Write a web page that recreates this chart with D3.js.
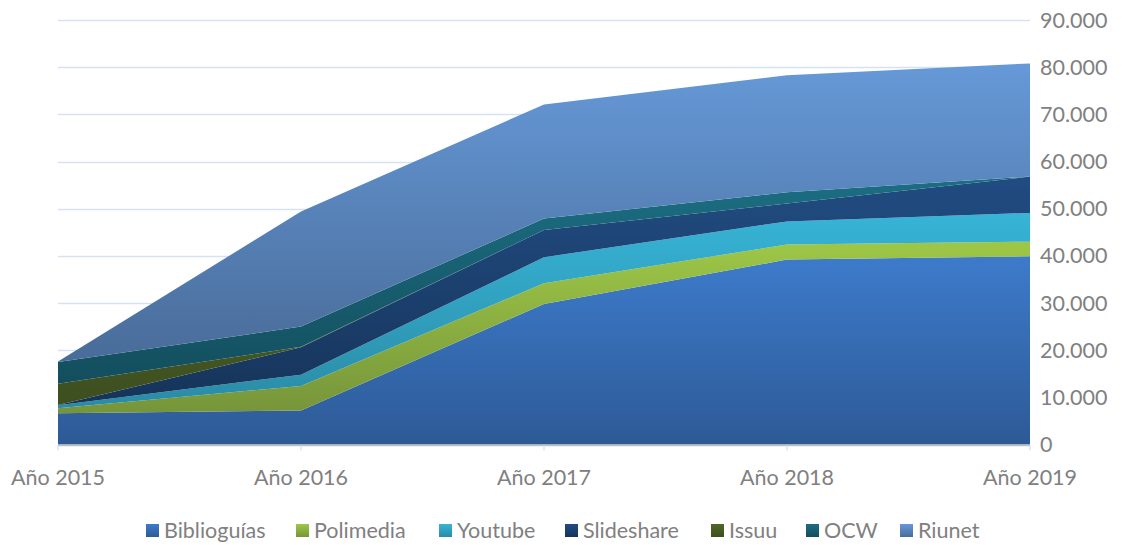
<!DOCTYPE html>
<html>
<head>
<meta charset="utf-8">
<script src="https://cdn.jsdelivr.net/npm/d3@7"></script>
<style>
  body { margin: 0; background: #fff; }
  text { font-family: Lato, "Open Sans", sans-serif; fill: #808080; }
</style>
</head>
<body>
<div class="chart"></div>
<script>
var svgWidth = 1127;
var svgHeight = 545;

var margin = { top: 20, right: 97, bottom: 100, left: 58 };

var width = 1030 - margin.left;
var height = 444.5 - margin.top;

// chart data
var years = ["Año 2015", "Año 2016", "Año 2017", "Año 2018", "Año 2019"];
var seriesNames = ["Bibliogu\u00edas", "Polimedia", "Youtube", "Slideshare", "Issuu", "OCW", "Riunet"];
var biblioguias = [6600, 7200, 29800, 39200, 39900];
var polimedia = [1100, 5200, 4400, 3200, 3100];
var youtube = [600, 2400, 5500, 4900, 6100];
var slideshare = [100, 5800, 5800, 3800, 7700];
var issuu = [4500, 100, 0, 0, 0];
var ocw = [4600, 4300, 2400, 2400, 0];
var riunet = [100, 24400, 24200, 24800, 24000];
var yTicks = [0, 10000, 20000, 30000, 40000, 50000, 60000, 70000, 80000, 90000];

// gradient colours: top, bottom
var colors = [
  ["#3d7bcb", "#2d5a96"],
  ["#9ec747", "#76953a"],
  ["#37b4d6", "#2a8ba6"],
  ["#214c82", "#16345a"],
  ["#51672a", "#3d4f1f"],
  ["#1c6e83", "#134e5d"],
  ["#6699d8", "#496c99"]
];

var allSeries = [biblioguias, polimedia, youtube, slideshare, issuu, ocw, riunet];

var table = years.map(function(y, i) {
  var row = { year: y };
  seriesNames.forEach(function(name, j) { row[name] = allSeries[j][i]; });
  return row;
});

var svg = d3.select(".chart")
  .append("svg")
  .attr("width", svgWidth)
  .attr("height", svgHeight);

var defs = svg.append("defs");
colors.forEach(function(c, i) {
  var g = defs.append("linearGradient")
    .attr("id", "grad" + i)
    .attr("x1", 0).attr("y1", 0).attr("x2", 0).attr("y2", 1);
  g.append("stop").attr("offset", "0%").attr("stop-color", c[0]);
  g.append("stop").attr("offset", "100%").attr("stop-color", c[1]);
});

var chartGroup = svg.append("g")
  .attr("transform", `translate(${margin.left}, ${margin.top})`);

var xScale = d3.scalePoint()
  .domain(years)
  .range([0, width]);

var yScale = d3.scaleLinear()
  .domain([0, 90000])
  .range([height, 0]);

var fmt = function(d) {
  return d === 0 ? "0" : d3.format(",")(d).replace(/,/g, ".");
};

// gridlines
chartGroup.append("g")
  .selectAll("line")
  .data(yTicks.filter(d => d > 0))
  .enter()
  .append("line")
  .attr("x1", 0)
  .attr("x2", width)
  .attr("y1", d => Math.round(yScale(d)) + 0.5)
  .attr("y2", d => Math.round(yScale(d)) + 0.5)
  .attr("stroke", "#d6e1f2")
  .attr("stroke-width", 1.3);

// stacked areas
var stack = d3.stack().keys(seriesNames);
var layers = stack(table);

var area = d3.area()
  .x(d => xScale(d.data.year))
  .y0(d => yScale(d[0]))
  .y1(d => yScale(d[1]));

chartGroup.selectAll(".layer")
  .data(layers)
  .enter()
  .append("path")
  .attr("class", "layer")
  .attr("d", area)
  .attr("fill", (d, i) => `url(#grad${i})`);

// bottom axis line and ticks
chartGroup.append("line")
  .attr("x1", 0).attr("x2", width)
  .attr("y1", height + 1).attr("y2", height + 1)
  .attr("stroke", "#bfbfbf")
  .attr("stroke-width", 1.3);

chartGroup.selectAll(".xtick")
  .data(years)
  .enter()
  .append("line")
  .attr("x1", d => xScale(d)).attr("x2", d => xScale(d))
  .attr("y1", height + 1).attr("y2", height + 6)
  .attr("stroke", "#d6e1f2")
  .attr("stroke-width", 1.3);

// x labels
chartGroup.selectAll(".xlabel")
  .data(years)
  .enter()
  .append("text")
  .attr("x", d => xScale(d))
  .attr("y", height + 40)
  .attr("text-anchor", "middle")
  .style("font-size", "21.5px")
  .text(d => d);

// y labels on the right
chartGroup.selectAll(".ylabel")
  .data(yTicks)
  .enter()
  .append("text")
  .attr("x", width + 10)
  .attr("y", d => yScale(d) + 7.5)
  .style("font-size", "21.5px")
  .text(d => fmt(d));

// legend (text start positions)
var legendX = [164, 314, 457, 583, 729, 824, 918];
var legend = svg.append("g");
seriesNames.forEach(function(name, i) {
  legend.append("rect")
    .attr("x", legendX[i] - 18)
    .attr("y", 524)
    .attr("width", 13)
    .attr("height", 13)
    .attr("fill", `url(#grad${i})`);
  legend.append("text")
    .attr("x", legendX[i])
    .attr("y", 538)
    .style("font-size", "21.5px")
    .text(name);
});
</script>
</body>
</html>
